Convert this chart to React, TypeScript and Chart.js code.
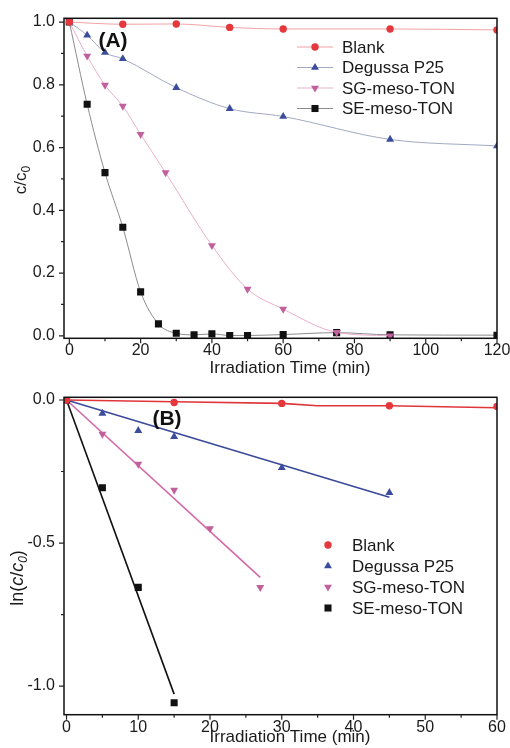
import React, { useEffect, useRef } from 'react';
import { Chart, registerables } from 'chart.js';

Chart.register(...registerables);

const FONT = '"Liberation Sans", Arial, Helvetica, sans-serif';

// ---------- Panel A data ----------
const A_X_TICKS = [0, 20, 40, 60, 80, 100, 120];
const A_X_MINOR = [10, 30, 50, 70, 90, 110];
const A_Y_TICKS = [0, 0.2, 0.4, 0.6, 0.8, 1.0];
const A_Y_MINOR = [0.1, 0.3, 0.5, 0.7, 0.9];

const A_BLANK_T = [0, 15, 30, 45, 60, 90, 120];
const A_BLANK = [1.0, 0.993, 0.994, 0.983, 0.978, 0.978, 0.975];

const A_P25_T = [0, 5, 10, 15, 30, 45, 60, 90, 120];
const A_P25 = [1.0, 0.958, 0.903, 0.883, 0.791, 0.724, 0.699, 0.626, 0.605];

const A_SG_T = [0, 5, 10, 15, 20, 27, 40, 50, 60, 75, 90];
const A_SG = [1.0, 0.892, 0.799, 0.732, 0.642, 0.52, 0.288, 0.149, 0.085, 0.011, 0.0];

const A_SE_T = [0, 5, 10, 15, 20, 25, 30, 35, 40, 45, 50, 60, 75, 90, 120];
const A_SE = [1.0, 0.738, 0.52, 0.346, 0.14, 0.038, 0.008, 0.003, 0.006, 0.001, 0.001, 0.004, 0.01, 0.003, 0.002];

// ---------- Panel B data ----------
const B_X_TICKS = [0, 10, 20, 30, 40, 50, 60];
const B_X_MINOR = [5, 15, 25, 35, 45, 55];
const B_Y_TICKS = [-1.0, -0.5, 0.0];
const B_Y_MINOR = [-0.75, -0.25];

const B_BLANK_T = [0, 15, 30, 45, 60];
const B_BLANK = [0, -0.009, -0.012, -0.02, -0.023];
const B_P25_T = [0, 5, 10, 15, 30, 45];
const B_P25 = [0, -0.047, -0.107, -0.128, -0.237, -0.324];
const B_SG_T = [0, 5, 10, 15, 20, 27];
const B_SG = [0, -0.119, -0.224, -0.315, -0.449, -0.655];
const B_SE_T = [0, 5, 10, 15];
const B_SE = [0, -0.307, -0.655, -1.058];

// fitted lines
const B_BLANK_FIT_T = [0, 15, 30, 35, 45, 58, 60];
const B_BLANK_FIT = [0, -0.006, -0.012, -0.02, -0.02, -0.026, -0.027];
const B_P25_FIT_T = [0, 45];
const B_P25_FIT = [0, -0.34];
const B_SG_FIT_T = [0, 27];
const B_SG_FIT = [0, -0.62];
const B_SE_FIT_T = [0, 15];
const B_SE_FIT = [0, -1.028];

const SERIES = ['Blank', 'Degussa P25', 'SG-meso-TON', 'SE-meso-TON'];

const RED = '#e5383d';
const BLUE = '#3b4c9c';
const PINK = '#c0609c';
const BLACK = '#111111';
const MARK_COLORS = [RED, BLUE, PINK, BLACK];
const A_LINE_COLORS = ['#f2a2a4', '#a2a9c2', '#e9aecb', '#8c8c8c'];
const B_FIT_COLORS = ['#e0363a', '#3a4a98', '#d468a6', '#111111'];
const STYLES = ['circle', 'triangle', 'triangle', 'rect'];
const ROTS = [0, 0, 180, 0];
const RADII = [3.7, 4.6, 4.6, 5];

const zip = (t: number[], v: number[]) => t.map((x, i) => ({ x, y: v[i] }));

function drawMarker(ctx: CanvasRenderingContext2D, i: number, x: number, y: number) {
  const r = RADII[i];
  ctx.save();
  ctx.fillStyle = MARK_COLORS[i];
  ctx.beginPath();
  if (STYLES[i] === 'circle') {
    ctx.arc(x, y, r, 0, Math.PI * 2);
  } else if (STYLES[i] === 'rect') {
    const s = r * Math.SQRT1_2;
    ctx.rect(x - s, y - s, 2 * s, 2 * s);
  } else {
    const sgn = ROTS[i] === 180 ? -1 : 1;
    ctx.moveTo(x, y - sgn * r);
    ctx.lineTo(x + r * 0.866, y + sgn * r * 0.5);
    ctx.lineTo(x - r * 0.866, y + sgn * r * 0.5);
    ctx.closePath();
  }
  ctx.fill();
  ctx.restore();
}

type Run = { t: string; italic?: boolean; sub?: boolean };

function drawRuns(ctx: CanvasRenderingContext2D, runs: Run[], cx: number, cy: number, size: number) {
  ctx.save();
  ctx.translate(cx, cy);
  ctx.rotate(-Math.PI / 2);
  const fontFor = (r: Run) => `${r.italic ? 'italic ' : ''}${r.sub ? Math.round(size * 0.68) : size}px ${FONT}`;
  let total = 0;
  for (const r of runs) {
    ctx.font = fontFor(r);
    total += ctx.measureText(r.t).width;
  }
  let x = -total / 2;
  ctx.fillStyle = '#1a1a1a';
  ctx.textBaseline = 'alphabetic';
  ctx.textAlign = 'left';
  const base = size * 0.36;
  for (const r of runs) {
    ctx.font = fontFor(r);
    ctx.fillText(r.t, x, base + (r.sub ? size * 0.22 : 0));
    x += ctx.measureText(r.t).width;
  }
  ctx.restore();
}

type Deco = {
  xMajor: number[];
  xMinor: number[];
  yMajor: number[];
  yMinor: number[];
  xTitle: string;
  xTitleX: number;
  xTitleBase: number;
  yTitle: Run[];
  yTitleX: number;
  yTitleY: number;
  yTitleSize: number;
  panel: string;
  panelX: number;
  panelY: number;
  legendX: number;
  legendY: number;
  legendStep: number;
  legendLine: boolean;
  legendTextX: number;
};

function makeDeco(d: Deco) {
  return {
    id: 'deco',
    afterDraw(chart: any) {
      const ctx: CanvasRenderingContext2D = chart.ctx;
      const a = chart.chartArea;
      const xs = chart.scales.x;
      const ys = chart.scales.y;
      ctx.save();
      // frame
      ctx.strokeStyle = '#111';
      ctx.lineWidth = 1.5;
      ctx.strokeRect(a.left, a.top, a.right - a.left, a.bottom - a.top);
      // ticks
      ctx.lineWidth = 1.2;
      ctx.strokeStyle = '#222';
      ctx.beginPath();
      d.xMajor.forEach((v) => {
        const p = xs.getPixelForValue(v);
        ctx.moveTo(p, a.bottom);
        ctx.lineTo(p, a.bottom + 5);
      });
      d.xMinor.forEach((v) => {
        const p = xs.getPixelForValue(v);
        ctx.moveTo(p, a.bottom);
        ctx.lineTo(p, a.bottom + 3);
      });
      d.yMajor.forEach((v) => {
        const p = ys.getPixelForValue(v);
        ctx.moveTo(a.left, p);
        ctx.lineTo(a.left - 5, p);
      });
      d.yMinor.forEach((v) => {
        const p = ys.getPixelForValue(v);
        ctx.moveTo(a.left, p);
        ctx.lineTo(a.left - 3, p);
      });
      ctx.stroke();
      // x title
      ctx.fillStyle = '#1a1a1a';
      ctx.font = `17px ${FONT}`;
      ctx.textAlign = 'center';
      ctx.textBaseline = 'alphabetic';
      ctx.fillText(d.xTitle, d.xTitleX, d.xTitleBase);
      // y title
      drawRuns(ctx, d.yTitle, d.yTitleX, d.yTitleY, d.yTitleSize);
      // panel label
      ctx.font = `bold 21px ${FONT}`;
      ctx.textAlign = 'center';
      ctx.textBaseline = 'middle';
      ctx.fillStyle = '#111';
      ctx.fillText(d.panel, d.panelX, d.panelY);
      // legend
      SERIES.forEach((name, i) => {
        const y = d.legendY + i * d.legendStep;
        if (d.legendLine) {
          ctx.strokeStyle = A_LINE_COLORS[i];
          ctx.lineWidth = 1;
          ctx.beginPath();
          ctx.moveTo(d.legendX - 18, y);
          ctx.lineTo(d.legendX + 18, y);
          ctx.stroke();
        }
        drawMarker(ctx, i, d.legendX, y);
        ctx.fillStyle = '#1a1a1a';
        ctx.font = `17px ${FONT}`;
        ctx.textAlign = 'left';
        ctx.textBaseline = 'middle';
        ctx.fillText(name, d.legendTextX, y + 1);
      });
      ctx.restore();
    },
  };
}

function axisX(min: number, max: number, ticks: number[], h: number, bottom: number, pad: number) {
  return {
    type: 'linear',
    min,
    max,
    grid: { display: false, drawTicks: false },
    border: { display: false },
    ticks: {
      padding: pad,
      autoSkip: false,
      maxRotation: 0,
      color: '#1a1a1a',
      font: { family: FONT, size: 16 },
      callback: (v: number) => String(v),
    },
    afterBuildTicks: (s: any) => {
      s.ticks = ticks.map((value) => ({ value }));
    },
    afterFit: (s: any) => {
      s.height = h - bottom;
      s.paddingLeft = 0;
      s.paddingRight = 0;
    },
  };
}

function axisY(min: number, max: number, ticks: number[]) {
  return {
    type: 'linear',
    min,
    max,
    grid: { display: false, drawTicks: false },
    border: { display: false },
    ticks: {
      padding: 9,
      autoSkip: false,
      color: '#1a1a1a',
      font: { family: FONT, size: 16 },
      callback: (v: number) => (Math.abs(v) < 1e-9 ? '0.0' : v.toFixed(1)),
    },
    afterBuildTicks: (s: any) => {
      s.ticks = ticks.map((value) => ({ value }));
    },
    afterFit: (s: any) => {
      s.width = 64;
      s.paddingTop = 0;
      s.paddingBottom = 0;
    },
  };
}

const A_H = 380;
const B_TOP = 380;
const B_H = 368;

function markerDataset(i: number, data: { x: number; y: number }[], line: boolean) {
  return {
    label: SERIES[i],
    data,
    showLine: line,
    borderColor: A_LINE_COLORS[i],
    borderWidth: 1,
    pointStyle: STYLES[i],
    rotation: ROTS[i],
    pointRadius: RADII[i],
    pointBackgroundColor: MARK_COLORS[i],
    pointBorderColor: MARK_COLORS[i],
    pointBorderWidth: 0,
    cubicInterpolationMode: 'monotone',
    clip: 0,
  };
}

function fitDataset(i: number, data: { x: number; y: number }[]) {
  return {
    label: SERIES[i] + ' fit',
    data,
    showLine: true,
    borderColor: B_FIT_COLORS[i],
    borderWidth: 1.6,
    pointRadius: 0,
    tension: 0,
    clip: 0,
  };
}

export default function App() {
  const refA = useRef<HTMLCanvasElement>(null);
  const refB = useRef<HTMLCanvasElement>(null);

  useEffect(() => {
    const chartA = new Chart(refA.current as HTMLCanvasElement, {
      type: 'line',
      data: {
        datasets: [
          markerDataset(0, zip(A_BLANK_T, A_BLANK), true),
          markerDataset(1, zip(A_P25_T, A_P25), true),
          markerDataset(2, zip(A_SG_T, A_SG), true),
          markerDataset(3, zip(A_SE_T, A_SE), true),
        ],
      },
      options: {
        animation: false,
        responsive: false,
        events: [],
        layout: { padding: { top: 18.3, right: 13, left: 0, bottom: 0 } },
        plugins: { legend: { display: false }, tooltip: { enabled: false } },
        scales: {
          x: axisX(-1.5, 120, A_X_TICKS, A_H, 338.3, 3),
          y: axisY(-0.008, 1.012, A_Y_TICKS),
        },
      } as any,
      plugins: [
        makeDeco({
          xMajor: A_X_TICKS,
          xMinor: A_X_MINOR,
          yMajor: A_Y_TICKS,
          yMinor: A_Y_MINOR,
          xTitle: 'Irradiation Time (min)',
          xTitleX: 290,
          xTitleBase: 373,
          yTitle: [{ t: 'c/c' }, { t: '0', sub: true }],
          yTitleX: 20,
          yTitleY: 180,
          yTitleSize: 17,
          panel: '(A)',
          panelX: 113,
          panelY: 41,
          legendX: 315,
          legendY: 47,
          legendStep: 20.5,
          legendLine: true,
          legendTextX: 342,
        }),
      ],
    } as any);

    const chartB = new Chart(refB.current as HTMLCanvasElement, {
      type: 'line',
      data: {
        datasets: [
          markerDataset(0, zip(B_BLANK_T, B_BLANK), false),
          markerDataset(1, zip(B_P25_T, B_P25), false),
          markerDataset(2, zip(B_SG_T, B_SG), false),
          markerDataset(3, zip(B_SE_T, B_SE), false),
          fitDataset(0, zip(B_BLANK_FIT_T, B_BLANK_FIT)),
          fitDataset(1, zip(B_P25_FIT_T, B_P25_FIT)),
          fitDataset(2, zip(B_SG_FIT_T, B_SG_FIT)),
          fitDataset(3, zip(B_SE_FIT_T, B_SE_FIT)),
        ],
      },
      options: {
        animation: false,
        responsive: false,
        events: [],
        layout: { padding: { top: 17.3, right: 13, left: 0, bottom: 0 } },
        plugins: { legend: { display: false }, tooltip: { enabled: false } },
        scales: {
          x: axisX(-0.35, 60, B_X_TICKS, B_H, 334.7, 3),
          y: axisY(-1.1, 0.0094, B_Y_TICKS),
        },
      } as any,
      plugins: [
        makeDeco({
          xMajor: B_X_TICKS,
          xMinor: B_X_MINOR,
          yMajor: B_Y_TICKS,
          yMinor: B_Y_MINOR,
          xTitle: 'Irradiation Time (min)',
          xTitleX: 290,
          xTitleBase: 362,
          yTitle: [
            { t: 'ln(' },
            { t: 'c', italic: true },
            { t: '/' },
            { t: 'c', italic: true },
            { t: '0', italic: true, sub: true },
            { t: ')' },
          ],
          yTitleX: 17,
          yTitleY: 198,
          yTitleSize: 18,
          panel: '(B)',
          panelX: 167,
          panelY: 39,
          legendX: 328,
          legendY: 165,
          legendStep: 21,
          legendLine: false,
          legendTextX: 352,
        }),
      ],
    } as any);

    return () => {
      chartA.destroy();
      chartB.destroy();
    };
  }, []);

  return (
    <div style={{ position: 'absolute', left: 0, top: 0, width: 510, height: 748, background: '#fff' }}>
      <canvas
        ref={refA}
        width={510}
        height={A_H}
        style={{ position: 'absolute', left: 0, top: 0, width: 510, height: A_H }}
      />
      <canvas
        ref={refB}
        width={510}
        height={B_H}
        style={{ position: 'absolute', left: 0, top: B_TOP, width: 510, height: B_H }}
      />
    </div>
  );
}
